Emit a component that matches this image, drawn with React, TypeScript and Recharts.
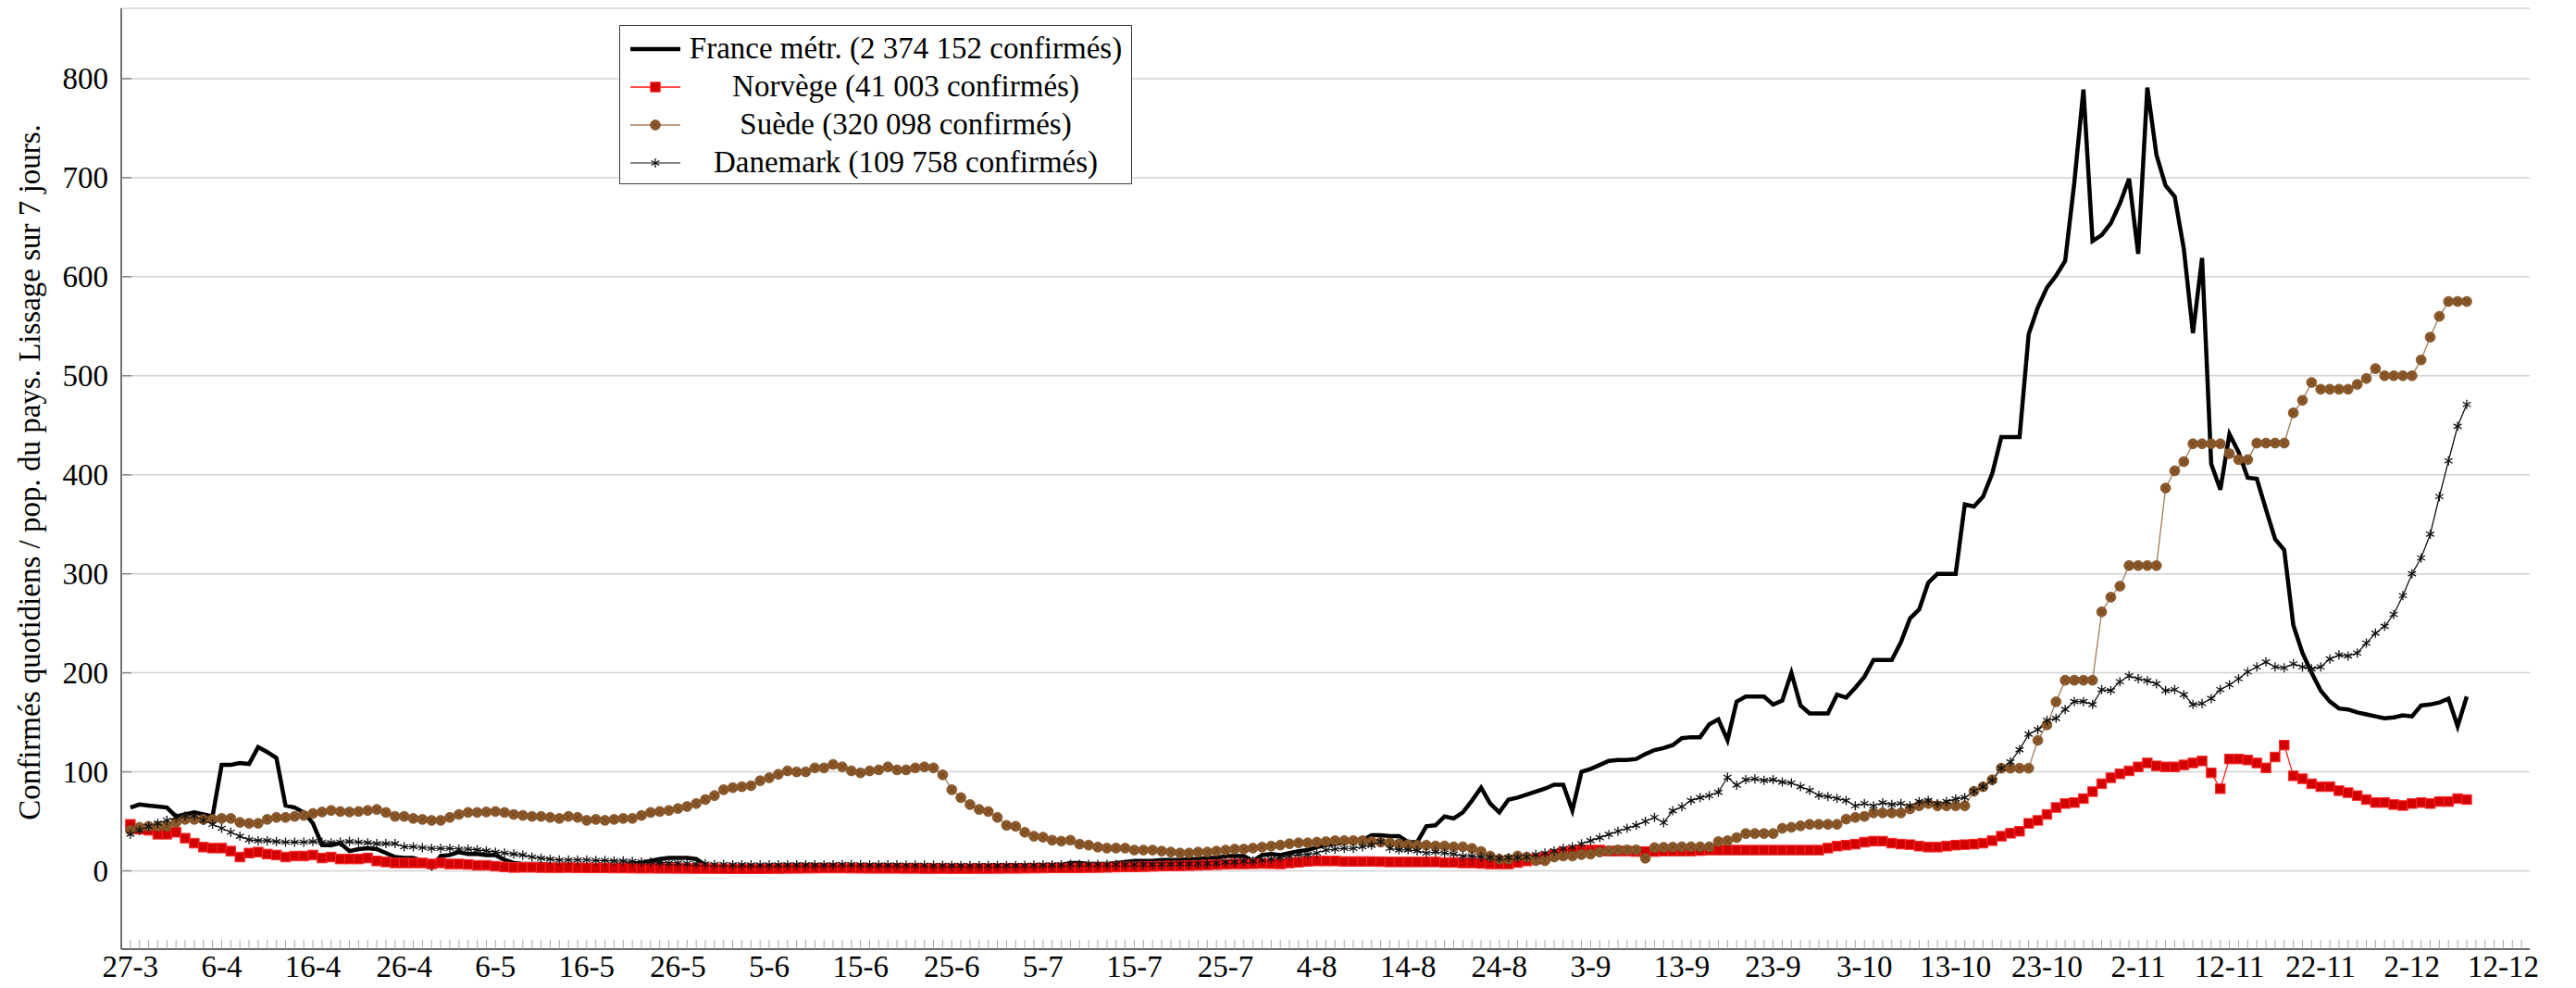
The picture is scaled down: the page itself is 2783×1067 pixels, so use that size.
import { CartesianGrid, Line, LineChart, XAxis, YAxis } from 'recharts'

const FONT = '"Liberation Serif", "DejaVu Serif", serif'

// one label every 10 days, day 0 = 27 March
const tickLabels = [
  '27-3', '6-4', '16-4', '26-4', '6-5', '16-5', '26-5', '5-6', '15-6', '25-6',
  '5-7', '15-7', '25-7', '4-8', '14-8', '24-8', '3-9', '13-9', '23-9', '3-10',
  '13-10', '23-10', '2-11', '12-11', '22-11', '2-12', '12-12',
]
const yTicks = [0, 100, 200, 300, 400, 500, 600, 700, 800]
const minorDays = Array.from({ length: 263 }, (_, i) => i)

// daily confirmed / population, 7-day smoothing, from 27-3
const france = [
  64, 67, 66, 65, 64, 55, 57, 59, 57, 55,
  107, 107, 109, 108, 125, 120, 114, 66, 64, 59,
  48, 26, 26, 28, 20, 22, 23, 22, 18, 14,
  13, 13, 10, 3, 15, 16, 19, 17, 17, 16,
  16, 11, 8, 7, 7, 7, 6, 6, 6, 6,
  6, 5, 5, 5, 6, 7, 8, 10, 12, 13,
  13, 13, 12, 6, 5, 5, 5, 5, 5, 5,
  5, 5, 5, 6, 6, 6, 5, 5, 5, 5,
  5, 5, 5, 4, 4, 4, 4, 4, 4, 4,
  4, 4, 4, 4, 4, 4, 4, 4, 5, 5,
  5, 5, 6, 8, 8, 7, 7, 7, 8, 9,
  10, 10, 10, 11, 11, 11, 12, 12, 13, 13,
  15, 15, 15, 10, 16, 17, 16, 18, 20, 21,
  24, 26, 27, 29, 30, 31, 36, 36, 35, 35,
  29, 29, 45, 46, 55, 53, 59, 71, 84, 68,
  59, 72, 74, 77, 80, 83, 87, 87, 61, 100,
  103, 107, 111, 112, 112, 113, 118, 122, 124, 127,
  134, 135, 135, 148, 153, 132, 171, 176, 176, 176,
  168, 172, 200, 167, 159, 159, 159, 178, 175, 185,
  196, 213, 213, 213, 231, 255, 264, 291, 300, 300,
  300, 370, 368, 378, 401, 438, 438, 438, 542, 569,
  589, 601, 616, 695, 789, 636, 642, 654, 674, 699,
  623, 791, 723, 692, 681, 628, 543, 619, 411, 385,
  441, 423, 397, 396, 365, 335, 324, 248, 220, 200,
  182, 171, 164, 163, 160, 158, 156, 154, 155, 157,
  156, 167, 168, 170, 174, 146, 176,
]

const norway = [
  47, 42, 41, 37, 37, 39, 33, 28, 24, 23,
  23, 20, 14, 18, 19, 17, 16, 14, 15, 15,
  16, 13, 14, 12, 12, 12, 13, 10, 9, 8,
  8, 8, 8, 7, 8, 7, 7, 6.5, 5.6, 5.6,
  4.7, 4, 3.4, 3.5, 3.5, 3.3, 3.2, 3.2, 3.3, 3.1,
  3, 3, 3, 2.8, 2.8, 2.7, 2.6, 2.6, 2.5, 2.5,
  2.4, 2.4, 2.3, 2.3, 2.2, 2.2, 2.1, 2.1, 2.1, 2.1,
  2.2, 2.3, 2.4, 2.5, 2.6, 2.7, 2.8, 2.8, 2.8, 2.7,
  2.6, 2.5, 2.5, 2.5, 2.5, 2.4, 2.4, 2.3, 2.3, 2.3,
  2.2, 2.2, 2.2, 2.3, 2.3, 2.4, 2.5, 2.5, 2.6, 2.7,
  2.8, 3, 3, 3, 3, 3.2, 3.3, 3.5, 3.8, 4,
  4, 4.2, 4.5, 4.8, 5, 5, 5.3, 5.6, 6, 6.3,
  6.6, 7, 7, 7.2, 7.4, 7.2, 7, 8, 8.7, 9.5,
  10, 10, 10, 9.5, 9.5, 9.5, 9.5, 9.3, 9, 9,
  9, 9, 9, 9, 8.5, 8.5, 8, 8, 7.5, 7,
  7, 7, 8.4, 10, 12, 14, 16.5, 19, 20, 21,
  21, 21, 20, 20, 20, 19.5, 19.5, 19.5, 20, 20,
  20, 20, 20.5, 21, 21, 21, 21, 21, 21, 21,
  21, 21, 21, 21, 21, 21, 23, 25, 26, 27,
  29, 30, 30, 28, 27, 26.5, 25, 24, 24, 25,
  26, 26.5, 27, 28, 30.5, 35, 38, 40, 48, 51,
  57, 64, 68, 69, 73, 80, 88, 94, 98, 101,
  105, 109, 106, 105, 105, 107, 109, 111, 99, 83,
  113, 113, 112, 109, 104, 115, 127, 96, 93, 88,
  85, 85, 81, 79, 76, 72, 69, 69, 67, 66,
  68, 69, 68, 70, 70, 73, 72,
]

const sweden = [
  41, 44, 45, 45, 45, 49, 52, 52, 52, 52,
  53, 53, 49, 48, 48, 52, 54, 54, 55, 56,
  58, 59.5, 61, 60, 59.5, 60, 61, 62, 59, 55,
  55, 53, 52, 51, 51, 54, 57, 59, 59, 59.5,
  60, 59, 57, 56, 55, 55, 54, 53, 55, 54,
  51, 52, 51, 52, 53, 53, 56, 59, 60, 61,
  63, 65, 68, 72, 76, 82, 84, 85, 86, 91,
  94, 97.5, 101, 100, 100, 104, 104, 107.5, 105, 101,
  99, 101, 102, 105, 102, 102, 104, 105, 104, 97,
  82, 74, 67, 62, 60, 54, 46, 45, 39, 35,
  34, 31, 30, 31, 27, 26, 24, 23, 23, 23,
  21, 21, 21, 20, 19, 18, 18, 19, 19, 20,
  21, 22, 22, 23, 24, 25, 26, 27.4, 28.3, 28.3,
  29, 29.6, 30.5, 30.5, 30.5, 30.5, 29.6, 29, 28.3, 27.4,
  26.5, 25.9, 25.9, 25.2, 25.2, 24.3, 24.3, 22.7, 19.6, 15,
  11.8, 11.8, 15, 14, 10.3, 10.3, 14, 15, 15, 16.5,
  17, 19, 20.2, 21.2, 21.2, 21.2, 12.8, 23.5, 23.8, 24,
  24.3, 24.3, 24.3, 24.3, 29.6, 30.5, 33.6, 37.7, 37.7, 37.7,
  37.7, 43, 44, 45.5, 47, 47, 47, 47, 52.3, 54,
  55, 58.6, 58.6, 58.6, 58.6, 62.6, 65.7, 68, 65.7, 65.7,
  65.7, 65.7, 80.4, 85, 92, 103.7, 103.7, 103.7, 103.7, 131.8,
  147.4, 170.7, 192.5, 192.5, 192.5, 192.5, 261.6, 276.4, 287.5, 308.3,
  308.3, 308.3, 308.3, 386.6, 404, 413.3, 431.3, 431.3, 431.3, 431.3,
  421.3, 415.3, 415.3, 432, 432, 432, 432, 462.5, 475.2, 493.2,
  486.4, 486.4, 486.4, 486.4, 491.2, 497.2, 507.2, 500, 500, 500,
  500, 516, 539, 560, 575, 575, 575,
]

const denmark = [
  37, 41, 45, 48, 51, 54, 55.5, 55.5, 51, 47,
  43, 39, 35, 31.5, 30.5, 30.5, 29.6, 29, 29, 29,
  29.6, 29, 28.4, 29, 29.6, 29, 28.4, 27.5, 27.5, 27.5,
  24.3, 24.3, 23.4, 22.7, 22.7, 22.7, 22, 22, 21.2, 20.2,
  19, 18, 17, 16, 14, 12.8, 11.8, 11, 11, 11,
  11, 10.5, 10.5, 10, 10, 9.5, 9, 9, 8.5, 8,
  8, 7.5, 7, 7, 6.5, 6.5, 6.2, 6.2, 6, 6,
  6, 6, 6.2, 6.2, 6, 6, 6, 6.2, 6.5, 6.5,
  6.3, 6, 6, 6, 6, 5.8, 5.8, 5.8, 5.6, 5.6,
  5.5, 5.5, 5.4, 5.4, 5.4, 5.5, 5.5, 5.5, 5.6, 5.8,
  6, 6, 6.2, 6.5, 6.5, 6.5, 6.5, 6.5, 6.5, 6.5,
  6.5, 6.5, 6.5, 6.6, 6.8, 7, 7, 7.2, 7.5, 8,
  9, 9, 10, 10, 11, 12, 13.4, 15, 16.5, 16.5,
  18, 21, 22, 22.7, 22.7, 24.3, 25.9, 29.6, 22.7, 21.2,
  21.2, 20.2, 18, 19, 18, 17, 15, 15, 14, 13.4,
  12.8, 13.4, 13.4, 14, 16.5, 18, 20.2, 22.7, 24.3, 27.4,
  30.5, 33.6, 36.8, 40, 43, 46, 50, 54, 48.6, 60.7,
  64.8, 71, 74, 76, 79.4, 94.4, 86.6, 92, 92.8, 91.3,
  92, 89.7, 88.8, 85, 81.3, 76.3, 75, 73.2, 71, 65.7,
  68, 65.7, 68.8, 67, 68, 65.7, 70, 71, 68, 70,
  72.6, 74, 80.4, 85, 91.3, 103.7, 110, 122.4, 138, 142.7,
  152, 154, 163, 171, 171, 168, 183, 182, 191, 197,
  194, 192, 189, 182, 183, 178, 168, 169, 174, 183,
  188, 194, 201, 206, 211, 206, 205, 209, 206, 204,
  206, 214, 218, 217, 220, 230, 240, 247, 259, 278,
  300, 316, 340, 378, 414, 449, 471,
]

const legendLabels = [
  'France métr. (2 374 152 confirmés)',
  'Norvège (41 003 confirmés)',
  'Suède (320 098 confirmés)',
  'Danemark (109 758 confirmés)',
]

const data = france.map((v, i) => ({
  day: i,
  france: v,
  norway: norway[i],
  sweden: sweden[i],
  denmark: denmark[i],
}))

const X_DOMAIN: [number, number] = [-1, 262.9]
const Y_DOMAIN: [number, number] = [-79, 871]
const FRAME = { stroke: '#444', strokeWidth: 1.5 }
const TICK_GREY = '#a8a8a8'

function Square({ cx, cy }: { cx: number; cy: number }) {
  return <rect x={cx - 5.2} y={cy - 5.2} width={10.4} height={10.4} fill="#d20000" stroke="#ff2a2a" strokeWidth={1} />
}

function Circle({ cx, cy }: { cx: number; cy: number }) {
  const d = 3.3
  return (
    <g>
      <circle cx={cx} cy={cy} r={5.4} fill="#8d5a2b" stroke="#7c4c22" strokeWidth={0.8} />
      <path d={`M${cx - d},${cy - d}L${cx + d},${cy + d}M${cx - d},${cy + d}L${cx + d},${cy - d}`} stroke="#6a3e17" strokeWidth={0.9} />
    </g>
  )
}

function Star({ cx, cy }: { cx: number; cy: number }) {
  const r = 5
  const dx = r * 0.866
  const dy = r * 0.5
  return (
    <path
      d={`M${cx},${cy - r}L${cx},${cy + r}M${cx - dx},${cy - dy}L${cx + dx},${cy + dy}M${cx - dx},${cy + dy}L${cx + dx},${cy - dy}`}
      stroke="#111"
      strokeWidth={1.3}
      fill="none"
    />
  )
}

function dotFor(Shape: typeof Square, prefix: string) {
  return (p: any) => {
    if (p.cx == null || p.cy == null) return <g key={`${prefix}-${p.index}`} />
    return <Shape key={`${prefix}-${p.index}`} cx={p.cx} cy={p.cy} />
  }
}

function BottomTick(p: any) {
  const v = p.payload.value
  const label = v % 10 === 0 ? tickLabels[v / 10] : null
  return (
    <g>
      <line x1={p.x} x2={p.x} y1={p.y} y2={p.y - 10} stroke={TICK_GREY} strokeWidth={1} />
      {label && (
        <text x={p.x} y={p.y + 30} textAnchor="middle" fontFamily={FONT} fontSize={33} fill="#000">
          {label}
        </text>
      )}
    </g>
  )
}

function TopTick(p: any) {
  return <line x1={p.x} x2={p.x} y1={p.y} y2={p.y + 10} stroke={TICK_GREY} strokeWidth={1} />
}

// left axis: value label outside, short tick inside the frame
function LeftTick(p: any) {
  const axisX = p.x + 14
  return (
    <g>
      <line x1={axisX} x2={axisX + 11} y1={p.y} y2={p.y} stroke="#8a8a8a" strokeWidth={1.5} />
      <text x={p.x} y={p.y} dy="0.34em" textAnchor="end" fontFamily={FONT} fontSize={33} fill="#000">
        {p.payload.value}
      </text>
    </g>
  )
}

function RightTick(p: any) {
  return <line x1={p.x} x2={p.x - 11} y1={p.y} y2={p.y} stroke="#8a8a8a" strokeWidth={1.5} />
}

function Sample({ i }: { i: number }) {
  const y = 10
  if (i === 0) return <line x1={11} x2={65} y1={y} y2={y} stroke="#000" strokeWidth={4.5} />
  if (i === 1)
    return (
      <g>
        <line x1={11} x2={65} y1={y} y2={y} stroke="#ff1a1a" strokeWidth={1.4} />
        <Square cx={38} cy={y} />
      </g>
    )
  if (i === 2)
    return (
      <g>
        <line x1={11} x2={65} y1={y} y2={y} stroke="#a27a58" strokeWidth={1.4} />
        <Circle cx={38} cy={y} />
      </g>
    )
  return (
    <g>
      <line x1={11} x2={65} y1={y} y2={y} stroke="#111" strokeWidth={1.2} />
      <Star cx={38} cy={y} />
    </g>
  )
}

function LegendBox() {
  return (
    <div
      style={{
        position: 'absolute',
        left: 669,
        top: 27,
        width: 554,
        height: 172,
        boxSizing: 'border-box',
        border: '1.5px solid #3a3a3a',
        background: '#fff',
        paddingTop: 4,
        fontFamily: FONT,
        fontSize: 33,
        color: '#000',
      }}
    >
      {legendLabels.map((label, i) => (
        <div key={label} style={{ display: 'flex', alignItems: 'center', height: 41 }}>
          <svg width={72} height={20} style={{ flex: 'none' }}>
            <Sample i={i} />
          </svg>
          <div style={{ width: 473, textAlign: 'center', whiteSpace: 'nowrap', lineHeight: '41px' }}>{label}</div>
        </div>
      ))}
    </div>
  )
}

export default function App() {
  return (
    <div style={{ position: 'relative', width: 2783, height: 1067, background: '#fff' }}>
      <style>{'body{margin:0}'}</style>
      <LineChart width={2783} height={1067} data={data} margin={{ top: 9, right: 50, bottom: 0, left: 0 }}>
        <CartesianGrid vertical={false} stroke="#d2d2d2" strokeWidth={1.5} />
        <XAxis
          dataKey="day"
          type="number"
          domain={X_DOMAIN}
          allowDataOverflow
          ticks={minorDays}
          interval={0}
          height={42}
          tickLine={false}
          tickSize={0}
          tickMargin={0}
          tick={(p: any) => <BottomTick {...p} />}
          axisLine={FRAME}
        />
        <XAxis
          xAxisId="top"
          orientation="top"
          dataKey="day"
          type="number"
          domain={X_DOMAIN}
          allowDataOverflow
          ticks={minorDays}
          interval={0}
          height={0}
          tickLine={false}
          tickSize={0}
          tickMargin={0}
          tick={(p: any) => <TopTick {...p} />}
          axisLine={FRAME}
        />
        <YAxis
          type="number"
          domain={Y_DOMAIN}
          allowDataOverflow
          ticks={yTicks}
          interval={0}
          width={131}
          tickLine={false}
          tickSize={0}
          tickMargin={14}
          axisLine={FRAME}
          tick={(p: any) => <LeftTick {...p} />}
          label={(p: any) => {
            const vb = p.viewBox || { y: 9, height: 1016 }
            const cy = vb.y + vb.height / 2 - 7
            return (
              <text x={32} y={cy} transform={`rotate(-90 32 ${cy})`} textAnchor="middle" dominantBaseline="central" fontFamily={FONT} fontSize={33} fill="#000">
                Confirmés quotidiens / pop. du pays. Lissage sur 7 jours.
              </text>
            )
          }}
        />
        <YAxis
          yAxisId="right"
          orientation="right"
          type="number"
          domain={Y_DOMAIN}
          allowDataOverflow
          ticks={yTicks}
          interval={0}
          width={0}
          tickLine={false}
          tickSize={0}
          tickMargin={0}
          tick={(p: any) => <RightTick {...p} />}
          axisLine={FRAME}
        />
        <Line dataKey="france" type="linear" stroke="#000" strokeWidth={4.5} dot={false} activeDot={false} isAnimationActive={false} />
        <Line dataKey="norway" type="linear" stroke="#ff1a1a" strokeWidth={1.3} dot={dotFor(Square, 'n')} activeDot={false} isAnimationActive={false} />
        <Line dataKey="sweden" type="linear" stroke="#a27a58" strokeWidth={1.3} dot={dotFor(Circle, 's')} activeDot={false} isAnimationActive={false} />
        <Line dataKey="denmark" type="linear" stroke="#000" strokeWidth={1.2} dot={dotFor(Star, 'd')} activeDot={false} isAnimationActive={false} />
      </LineChart>
      <LegendBox />
    </div>
  )
}
